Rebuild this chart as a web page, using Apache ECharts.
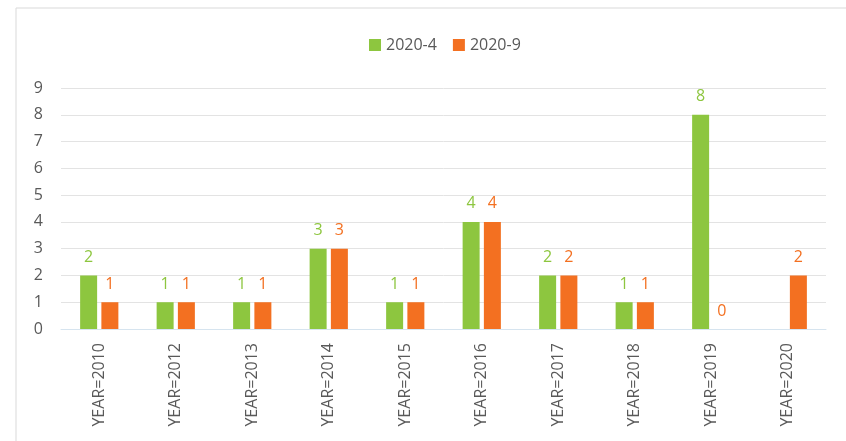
<!DOCTYPE html>
<html>
<head>
<meta charset="utf-8">
<script src="https://cdn.jsdelivr.net/npm/echarts@6/dist/echarts.min.js"></script>
<style>
  html, body { margin: 0; padding: 0; background: #fff; }
  #container { width: 846px; height: 441px; }
</style>
</head>
<body>
<div id="container"></div>
<script>
var categories = ['YEAR=2010', 'YEAR=2012', 'YEAR=2013', 'YEAR=2014', 'YEAR=2015',
  'YEAR=2016', 'YEAR=2017', 'YEAR=2018', 'YEAR=2019', 'YEAR=2020'];
var april = [2, 1, 1, 3, 1, 4, 2, 1, 8, '-'];
var september = [1, 1, 1, 3, 1, 4, 2, 1, 0, 2];
var yTicks = [0, 1, 2, 3, 4, 5, 6, 7, 8, 9];

var green = '#8dc63f';
var orange = '#f37021';
var font = '"Open Sans", "Noto Sans", sans-serif';

var dom = document.getElementById('container');
var myChart = echarts.init(dom);
var option = {
  backgroundColor: '#fff',
  animation: false,
  textStyle: { fontFamily: font },
  graphic: [
    {
      type: 'polyline',
      shape: { points: [[16, 441], [16, 8], [846, 8]] },
      style: { stroke: '#d9d9d9', lineWidth: 1, fill: null },
      silent: true
    }
  ],
  legend: {
    top: 32,
    left: 364,
    itemWidth: 12,
    itemHeight: 12,
    itemGap: 16,
    icon: 'rect',
    textStyle: { color: '#595959', fontSize: 16, fontFamily: font }
  },
  grid: {
    left: 61,
    right: 20,
    top: 88,
    bottom: 112,
    containLabel: false
  },
  xAxis: {
    type: 'category',
    data: categories,
    axisLine: { lineStyle: { color: '#d6e4ef' } },
    axisTick: { show: false },
    axisLabel: {
      rotate: 90,
      margin: 14,
      color: '#595959',
      fontSize: 16,
      fontFamily: font,
      interval: 0
    }
  },
  yAxis: {
    type: 'value',
    min: yTicks[0],
    max: yTicks[yTicks.length - 1],
    interval: 1,
    axisLine: { show: false },
    axisTick: { show: false },
    axisLabel: { color: '#595959', fontSize: 16, margin: 18, fontFamily: font },
    splitLine: { lineStyle: { color: '#e3e3e3' } }
  },
  series: [
    {
      name: '2020-4',
      type: 'bar',
      data: april,
      barWidth: 17,
      barGap: '25%',
      itemStyle: { color: green },
      label: { show: true, position: 'top', distance: 10, color: green, fontSize: 16, fontFamily: font }
    },
    {
      name: '2020-9',
      type: 'bar',
      data: september,
      barWidth: 17,
      barGap: '25%',
      itemStyle: { color: orange },
      label: { show: true, position: 'top', distance: 10, color: orange, fontSize: 16, fontFamily: font }
    }
  ]
};
myChart.setOption(option, true);
</script>
</body>
</html>
